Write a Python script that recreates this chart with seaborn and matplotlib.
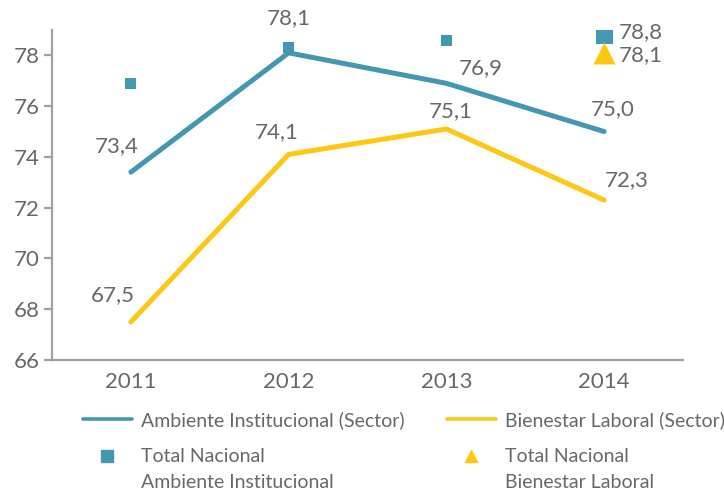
import pandas as pd
import numpy as np
import matplotlib.pyplot as plt
import seaborn as sns
from matplotlib.lines import Line2D

years = ["2011", "2012", "2013", "2014"]
ambiente_sector = [73.4, 78.1, 76.9, 75.0]
bienestar_sector = [67.5, 74.1, 75.1, 72.3]
ambiente_nacional = [76.9, 78.3, 78.6, 78.8]
bienestar_nacional_year = ["2014"]
bienestar_nacional = [78.1]

sns.set_style("white")
plt.rcParams['font.family'] = ['Lato', 'DejaVu Sans']
TEAL = "#4398B0"
YELLOW = "#FDC713"
GREY = "#686868"
AXC = "#A0A0A0"
W, H = 724, 493

df = pd.DataFrame({"year": years, "amb": ambiente_sector, "bien": bienestar_sector,
                   "nac": ambiente_nacional})

fig = plt.figure(figsize=(W / 100, H / 100), dpi=100)
ax = fig.add_axes([52 / W, 1 - 360 / H, 631 / W, 330 / H])

sns.lineplot(data=df, x="year", y="amb", color=TEAL, linewidth=3.6, ax=ax,
             solid_capstyle="round")
sns.lineplot(data=df, x="year", y="bien", color=YELLOW, linewidth=3.6, ax=ax,
             solid_capstyle="round")

# national totals (last square drawn bigger, as in the original)
sizes = [62, 62, 62, 150]
ax.scatter(df["year"], df["nac"], marker="s", s=sizes, color=TEAL, zorder=4, linewidths=0)
ax.scatter(bienestar_nacional_year, bienestar_nacional, marker="^", s=250, color=YELLOW,
           zorder=4, linewidths=0)

fs = 16
lfs = 14


def fmt(v):
    return f"{v:.1f}".replace(".", ",")


def px(dx, dy):
    return (dx * 0.72, dy * 0.72)


# value label offsets in pixels (dx right, dy up)
amb_off = [(-14, 26), (0, 35), (34, 15), (9, 22)]
bien_off = [(-18, 27), (-12, 22), (4, 18), (23, 20)]
for i, (v, o) in enumerate(zip(ambiente_sector, amb_off)):
    ax.annotate(fmt(v), (i, v), xytext=px(*o), textcoords="offset points",
                ha="center", va="center", fontsize=fs, color=GREY)
for i, (v, o) in enumerate(zip(bienestar_sector, bien_off)):
    ax.annotate(fmt(v), (i, v), xytext=px(*o), textcoords="offset points",
                ha="center", va="center", fontsize=fs, color=GREY)
ax.annotate(fmt(ambiente_nacional[-1]), (3, ambiente_nacional[-1]), xytext=px(15, 3),
            textcoords="offset points", ha="left", va="center", fontsize=fs, color=GREY)
ax.annotate(fmt(bienestar_nacional[0]), (3, bienestar_nacional[0]), xytext=px(15, -2),
            textcoords="offset points", ha="left", va="center", fontsize=fs, color=GREY)

ax.set_xlim(-0.5, 3.5)
ax.set_ylim(66, 79)
ax.set_yticks(np.arange(66, 79, 2))
ax.set_xlabel("")
ax.set_ylabel("")
for s in ["top", "right"]:
    ax.spines[s].set_visible(False)
for s in ["left", "bottom"]:
    ax.spines[s].set_color(AXC)
    ax.spines[s].set_linewidth(1.6)
ax.set_xticks(np.arange(-0.5, 3.6, 1), minor=True)
ax.tick_params(axis="x", which="major", length=0, labelsize=fs, labelcolor=GREY, pad=9)
ax.tick_params(axis="x", which="minor", length=4, width=1.6, color=AXC, direction="out")
ax.tick_params(axis="y", length=6, width=1.6, color=AXC, direction="out",
               labelsize=fs, labelcolor=GREY, pad=3)
ax.tick_params(left=True, bottom=True)


def add_legend(handles, labels, x, y, spacing):
    leg = fig.legend(handles, labels, loc="center left", bbox_to_anchor=(x / W, 1 - y / H),
                     frameon=False, fontsize=lfs, handlelength=2.5, handletextpad=0.5,
                     labelspacing=spacing, borderpad=0, borderaxespad=0)
    for t in leg.get_texts():
        t.set_color(GREY)
    return leg


blank = Line2D([], [], ls="none")
add_legend([Line2D([0], [0], color=TEAL, lw=2.6)], ["Ambiente Institucional (Sector)"],
           83, 420, 0.5)
add_legend([Line2D([0], [0], color=TEAL, marker="s", ls="none", markersize=8), blank],
           ["Total Nacional", "Ambiente Institucional"], 83, 469.5, 0.43)
add_legend([Line2D([0], [0], color=YELLOW, lw=2.6)], ["Bienestar Laboral (Sector)"],
           447, 420, 0.5)
add_legend([Line2D([0], [0], color=YELLOW, marker="^", ls="none", markersize=9), blank],
           ["Total Nacional", "Bienestar Laboral"], 447, 469.5, 0.43)

fig.savefig("out.png", dpi=100)
